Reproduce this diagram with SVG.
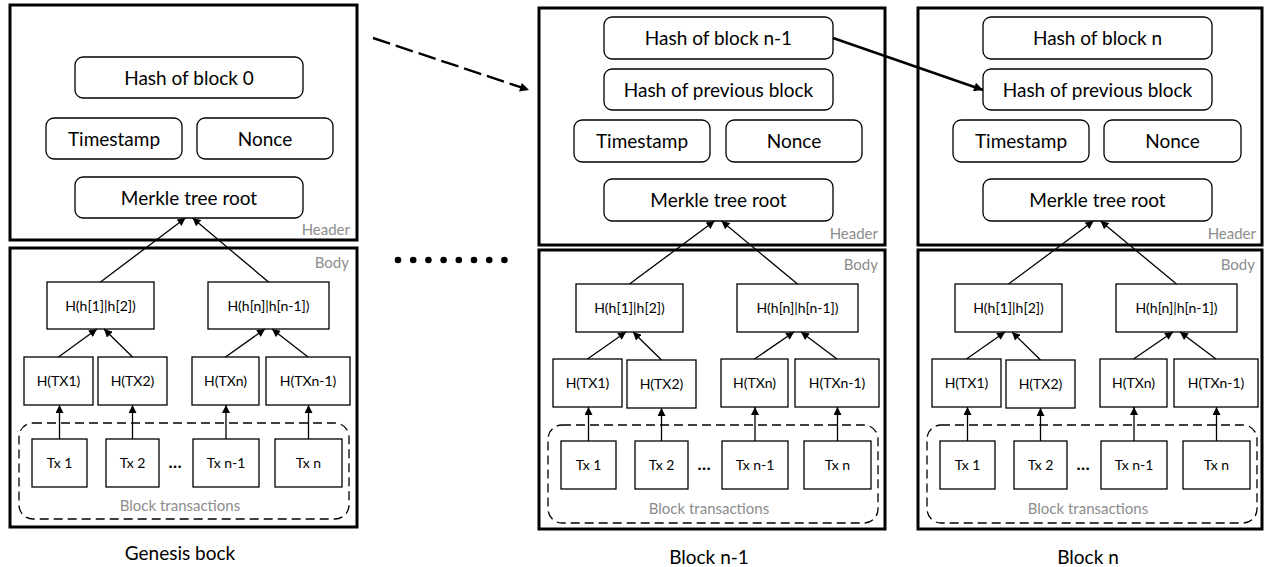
<svg xmlns="http://www.w3.org/2000/svg" width="1265" height="567" viewBox="0 0 1265 567">
<style>
text{font-family:Lato,"Open Sans","DejaVu Sans",sans-serif;fill:#000;text-anchor:middle}
.outer{fill:#fff;stroke:#000;stroke-width:3}
.rb{fill:#fff;stroke:#000;stroke-width:1.3}
.hb{font-size:19px}
.bt{font-size:14px}
.el{font-size:17px;font-weight:bold}
.lbl{font-size:15px;fill:#8c8c8c;text-anchor:end}
.gl{font-size:15px;fill:#8c8c8c}
.cap{font-size:19px}
.dbox{fill:none;stroke:#000;stroke-width:1.3;stroke-dasharray:9 5}
.c{stroke:#000;stroke-width:1.3;fill:none;marker-end:url(#ah)}
.big{stroke:#000;stroke-width:2.4;fill:none;marker-end:url(#ahb)}
</style>
<defs>
<marker id="ah" markerUnits="userSpaceOnUse" viewBox="0 0 10 10" refX="10" refY="5" markerWidth="9" markerHeight="8" orient="auto"><path d="M0,0 L10,5 L0,10 z" fill="#000"/></marker>
<marker id="ahb" markerUnits="userSpaceOnUse" viewBox="0 0 10 10" refX="10" refY="5" markerWidth="12" markerHeight="9" orient="auto"><path d="M0,0 L10,5 L0,10 z" fill="#000"/></marker>
</defs>

<!-- Genesis block -->
<g id="genesis" transform="translate(10,0)">
  <g id="g-header">
    <rect class="outer" x="0" y="5" width="347" height="235"/>
    <text class="lbl" x="340" y="235">Header</text>
  </g>
  <g id="g-hash"><rect class="rb" x="65" y="57" width="228" height="41" rx="8"/><text class="hb" x="179" y="84.5">Hash of block 0</text></g>
  <g id="g-time"><rect class="rb" x="36" y="118" width="136" height="41" rx="8"/><text class="hb" x="104" y="145.5">Timestamp</text></g>
  <g id="g-nonce"><rect class="rb" x="187" y="118" width="136" height="41" rx="8"/><text class="hb" x="255" y="145.5">Nonce</text></g>
  <g id="g-merkle"><rect class="rb" x="65" y="177" width="228" height="41" rx="8"/><text class="hb" x="179" y="204.5">Merkle tree root</text></g>
  <g id="g-body">
    <rect class="outer" x="0" y="248" width="347" height="279"/>
    <text class="lbl" x="339" y="268">Body</text>
  </g>
  <g id="g-h12"><rect class="rb" x="37" y="282" width="107" height="47"/><text class="bt" x="90.5" y="310.5">H(h[1]|h[2])</text></g>
  <g id="g-hn"><rect class="rb" x="198" y="282" width="121" height="47"/><text class="bt" x="258.5" y="310.5">H(h[n]|h[n-1])</text></g>
  <g id="g-htx1"><rect class="rb" x="14" y="357" width="69" height="48"/><text class="bt" x="48.5" y="386">H(TX1)</text></g>
  <g id="g-htx2"><rect class="rb" x="88" y="357" width="69" height="48"/><text class="bt" x="122.5" y="386">H(TX2)</text></g>
  <g id="g-htxn"><rect class="rb" x="182" y="357" width="67" height="48"/><text class="bt" x="215.5" y="386">H(TXn)</text></g>
  <g id="g-htxn1"><rect class="rb" x="256" y="357" width="84" height="48"/><text class="bt" x="298" y="386">H(TXn-1)</text></g>
  <g id="g-txs">
    <rect class="dbox" x="9" y="423" width="330" height="96" rx="14"/>
    <text class="gl" x="170" y="511">Block transactions</text>
  </g>
  <g id="g-tx1"><rect class="rb" x="22" y="439" width="55" height="48"/><text class="bt" x="49.5" y="468">Tx 1</text></g>
  <g id="g-tx2"><rect class="rb" x="96" y="439" width="53" height="48"/><text class="bt" x="122.5" y="468">Tx 2</text></g>
  <g id="g-dots"><text class="el" x="165" y="468">…</text></g>
  <g id="g-txn1"><rect class="rb" x="183" y="439" width="66" height="48"/><text class="bt" x="216" y="468">Tx n-1</text></g>
  <g id="g-txn"><rect class="rb" x="265" y="439" width="67" height="48"/><text class="bt" x="298.5" y="468">Tx n</text></g>
  <g id="g-cap"><text class="cap" x="170" y="560">Genesis bock</text></g>
</g>

<!-- Block n-1 -->
<g id="blockn1" transform="translate(538,0)">
  <g id="a-header">
    <rect class="outer" x="1" y="8" width="346" height="237"/>
    <text class="lbl" x="340" y="239">Header</text>
  </g>
  <g id="a-hash"><rect class="rb" x="66" y="17" width="229" height="42" rx="8"/><text class="hb" x="180.5" y="45">Hash of block n-1</text></g>
  <g id="a-prev"><rect class="rb" x="66" y="69" width="229" height="41" rx="8"/><text class="hb" x="180.5" y="96.5">Hash of previous block</text></g>
  <g id="a-time"><rect class="rb" x="36" y="120" width="136" height="42" rx="8"/><text class="hb" x="104" y="148">Timestamp</text></g>
  <g id="a-nonce"><rect class="rb" x="188" y="120" width="136" height="42" rx="8"/><text class="hb" x="256" y="148">Nonce</text></g>
  <g id="a-merkle"><rect class="rb" x="66" y="179" width="229" height="42" rx="8"/><text class="hb" x="180.5" y="207">Merkle tree root</text></g>
  <g transform="translate(1,2)">
  <g id="a-body">
    <rect class="outer" x="0" y="248" width="346" height="279"/>
    <text class="lbl" x="339" y="268">Body</text>
  </g>
  <g id="a-h12"><rect class="rb" x="37" y="282" width="107" height="48"/><text class="bt" x="90.5" y="311">H(h[1]|h[2])</text></g>
  <g id="a-hn"><rect class="rb" x="198" y="282" width="121" height="48"/><text class="bt" x="258.5" y="311">H(h[n]|h[n-1])</text></g>
  <g id="a-htx1"><rect class="rb" x="14" y="357" width="69" height="48"/><text class="bt" x="48.5" y="386">H(TX1)</text></g>
  <g id="a-htx2"><rect class="rb" x="88" y="358" width="69" height="48"/><text class="bt" x="122.5" y="387">H(TX2)</text></g>
  <g id="a-htxn"><rect class="rb" x="182" y="357" width="67" height="48"/><text class="bt" x="215.5" y="386">H(TXn)</text></g>
  <g id="a-htxn1"><rect class="rb" x="256" y="357" width="84" height="48"/><text class="bt" x="298" y="386">H(TXn-1)</text></g>
  <g id="a-txs">
    <rect class="dbox" x="9" y="423" width="330" height="98" rx="14"/>
    <text class="gl" x="170" y="512">Block transactions</text>
  </g>
  <g id="a-tx1"><rect class="rb" x="22" y="439" width="55" height="48"/><text class="bt" x="49.5" y="468">Tx 1</text></g>
  <g id="a-tx2"><rect class="rb" x="96" y="439" width="53" height="48"/><text class="bt" x="122.5" y="468">Tx 2</text></g>
  <g id="a-dots"><text class="el" x="165" y="468">…</text></g>
  <g id="a-txn1"><rect class="rb" x="183" y="439" width="66" height="48"/><text class="bt" x="216" y="468">Tx n-1</text></g>
  <g id="a-txn"><rect class="rb" x="265" y="439" width="67" height="48"/><text class="bt" x="298.5" y="468">Tx n</text></g>
  <g id="a-cap"><text class="cap" x="170" y="562">Block n-1</text></g>
  </g>
</g>

<!-- Block n -->
<g id="blockn" transform="translate(917,0)">
  <g id="b-header">
    <rect class="outer" x="1" y="8" width="344" height="237"/>
    <text class="lbl" x="339" y="239">Header</text>
  </g>
  <g id="b-hash"><rect class="rb" x="66" y="17" width="229" height="42" rx="8"/><text class="hb" x="180.5" y="45">Hash of block n</text></g>
  <g id="b-prev"><rect class="rb" x="66" y="69" width="229" height="41" rx="8"/><text class="hb" x="180.5" y="96.5">Hash of previous block</text></g>
  <g id="b-time"><rect class="rb" x="36" y="120" width="136" height="42" rx="8"/><text class="hb" x="104" y="148">Timestamp</text></g>
  <g id="b-nonce"><rect class="rb" x="187" y="120" width="137" height="42" rx="8"/><text class="hb" x="255.5" y="148">Nonce</text></g>
  <g id="b-merkle"><rect class="rb" x="66" y="179" width="229" height="42" rx="8"/><text class="hb" x="180.5" y="207">Merkle tree root</text></g>
  <g transform="translate(1,2)">
  <g id="b-body">
    <rect class="outer" x="0" y="248" width="344" height="279"/>
    <text class="lbl" x="337" y="268">Body</text>
  </g>
  <g id="b-h12"><rect class="rb" x="37" y="282" width="107" height="48"/><text class="bt" x="90.5" y="311">H(h[1]|h[2])</text></g>
  <g id="b-hn"><rect class="rb" x="198" y="282" width="121" height="48"/><text class="bt" x="258.5" y="311">H(h[n]|h[n-1])</text></g>
  <g id="b-htx1"><rect class="rb" x="14" y="357" width="69" height="48"/><text class="bt" x="48.5" y="386">H(TX1)</text></g>
  <g id="b-htx2"><rect class="rb" x="88" y="358" width="69" height="48"/><text class="bt" x="122.5" y="387">H(TX2)</text></g>
  <g id="b-htxn"><rect class="rb" x="182" y="357" width="67" height="48"/><text class="bt" x="215.5" y="386">H(TXn)</text></g>
  <g id="b-htxn1"><rect class="rb" x="256" y="357" width="84" height="48"/><text class="bt" x="298" y="386">H(TXn-1)</text></g>
  <g id="b-txs">
    <rect class="dbox" x="9" y="423" width="330" height="98" rx="14"/>
    <text class="gl" x="170" y="512">Block transactions</text>
  </g>
  <g id="b-tx1"><rect class="rb" x="22" y="439" width="55" height="48"/><text class="bt" x="49.5" y="468">Tx 1</text></g>
  <g id="b-tx2"><rect class="rb" x="96" y="439" width="53" height="48"/><text class="bt" x="122.5" y="468">Tx 2</text></g>
  <g id="b-dots"><text class="el" x="165" y="468">…</text></g>
  <g id="b-txn1"><rect class="rb" x="183" y="439" width="66" height="48"/><text class="bt" x="216" y="468">Tx n-1</text></g>
  <g id="b-txn"><rect class="rb" x="265" y="439" width="67" height="48"/><text class="bt" x="298.5" y="468">Tx n</text></g>
  <g id="b-cap"><text class="cap" x="170" y="562">Block n</text></g>
  </g>
</g>

<!-- ellipsis dots between blocks -->
<g id="gap-dots" fill="#000">
  <circle cx="398" cy="260" r="3.3"/><circle cx="413.2" cy="260" r="3.3"/><circle cx="428.4" cy="260" r="3.3"/><circle cx="443.6" cy="260" r="3.3"/>
  <circle cx="458.8" cy="260" r="3.3"/><circle cx="474" cy="260" r="3.3"/><circle cx="489.2" cy="260" r="3.3"/><circle cx="504.4" cy="260" r="3.3"/>
</g>

<!-- connectors -->
<g id="connectors">
  <g id="conn-genesis" transform="translate(10,0)">
    <line class="c" x1="90.5" y1="282" x2="175.5" y2="218"/>
    <line class="c" x1="258.5" y1="282" x2="182.5" y2="218"/>
    <line class="c" x1="48.5" y1="357" x2="87" y2="329"/>
    <line class="c" x1="122.5" y1="357" x2="94" y2="329"/>
    <line class="c" x1="215.5" y1="357" x2="255" y2="329"/>
    <line class="c" x1="298" y1="357" x2="262" y2="329"/>
    <line class="c" x1="49.5" y1="439" x2="49.5" y2="405"/>
    <line class="c" x1="122.5" y1="439" x2="122.5" y2="405"/>
    <line class="c" x1="216" y1="439" x2="216" y2="405"/>
    <line class="c" x1="298.5" y1="439" x2="298.5" y2="405"/>
  </g>
  <g id="conn-n1" transform="translate(539,2)">
    <line class="c" x1="90.5" y1="282" x2="175.5" y2="219"/>
    <line class="c" x1="258.5" y1="282" x2="182.5" y2="219"/>
    <line class="c" x1="48.5" y1="357" x2="87" y2="330"/>
    <line class="c" x1="122.5" y1="358" x2="94" y2="330"/>
    <line class="c" x1="215.5" y1="357" x2="255" y2="330"/>
    <line class="c" x1="298" y1="357" x2="262" y2="330"/>
    <line class="c" x1="49.5" y1="439" x2="49.5" y2="405"/>
    <line class="c" x1="122.5" y1="439" x2="122.5" y2="406"/>
    <line class="c" x1="216" y1="439" x2="216" y2="405"/>
    <line class="c" x1="298.5" y1="439" x2="298.5" y2="405"/>
  </g>
  <g id="conn-n" transform="translate(918,2)">
    <line class="c" x1="90.5" y1="282" x2="175.5" y2="219"/>
    <line class="c" x1="258.5" y1="282" x2="182.5" y2="219"/>
    <line class="c" x1="48.5" y1="357" x2="87" y2="330"/>
    <line class="c" x1="122.5" y1="358" x2="94" y2="330"/>
    <line class="c" x1="215.5" y1="357" x2="255" y2="330"/>
    <line class="c" x1="298" y1="357" x2="262" y2="330"/>
    <line class="c" x1="49.5" y1="439" x2="49.5" y2="405"/>
    <line class="c" x1="122.5" y1="439" x2="122.5" y2="406"/>
    <line class="c" x1="216" y1="439" x2="216" y2="405"/>
    <line class="c" x1="298.5" y1="439" x2="298.5" y2="405"/>
  </g>
  <line id="link-dashed" class="big" x1="373" y1="38" x2="529" y2="90" stroke-dasharray="18 6"/>
  <line id="link-prev" class="big" x1="833" y1="38" x2="983" y2="90"/>
</g>
</svg>
